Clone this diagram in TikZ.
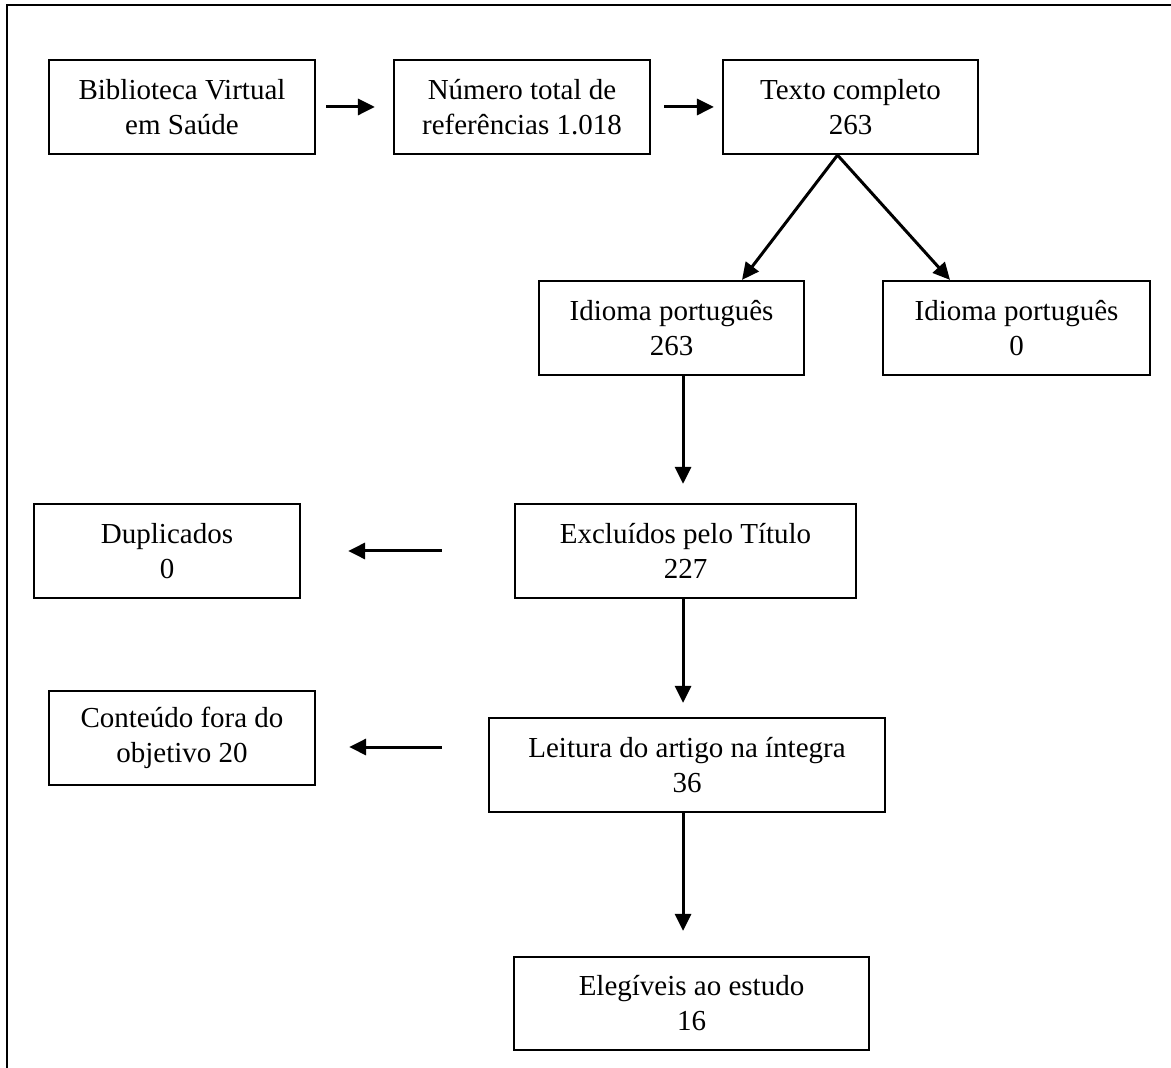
\documentclass[tikz,border=0pt]{standalone}
\usepackage{fontspec}
\setmainfont{Liberation Serif}
\usetikzlibrary{arrows.meta,calc}
\begin{document}
\begin{tikzpicture}[x=0.5pt,y=-0.5pt,
  box/.style={draw, line width=1.1pt, inner sep=0pt, align=center,
    font=\fontsize{14.5}{17.5}\selectfont},
  arr/.style={line width=1.5pt, -{Triangle[length=8.5pt,width=8pt]}},
  frame/.style={line width=1.1pt}]
\useasboundingbox (0,0) rectangle (1171,1068);
% frame (top and left sides)
\coordinate (fl) at (7,1068);
\coordinate (fc) at (7,5);
\coordinate (fr) at (1171,5);
\draw[frame] (fl) -- (fc) -- (fr);
% boxes
\node[box, minimum width=133pt, minimum height=47pt] (B1) at (182,107) {Biblioteca Virtual\\em Saúde};
\node[box, minimum width=128pt, minimum height=47pt] (B2) at (522,107) {Número total de\\referências 1.018};
\node[box, minimum width=127.5pt, minimum height=47pt] (B3) at (850.5,107) {Texto completo\\263};
\node[box, minimum width=132.5pt, minimum height=47pt] (B4) at (671.5,328) {Idioma português\\263};
\node[box, minimum width=133.5pt, minimum height=47pt] (B5) at (1016.5,328) {Idioma português\\0};
\node[box, minimum width=170.5pt, minimum height=47pt] (B6) at (685.5,551) {Excluídos pelo Título\\227};
\node[box, minimum width=133pt, minimum height=47pt] (B7) at (167,551) {Duplicados\\0};
\node[box, minimum width=198pt, minimum height=47pt] (B8) at (687,765) {Leitura do artigo na íntegra\\36};
\node[box, minimum width=133pt, minimum height=47pt] (B9) at (182,738) {Conteúdo fora do\\objetivo 20};
\node[box, minimum width=177.5pt, minimum height=46.5pt] (B10) at (691.5,1003.5) {Elegíveis ao estudo\\16};
% helper coordinates
\coordinate (vx) at (683,0);
\coordinate (ay) at (0,747);
% connectors
\draw[arr, shorten <=5pt, shorten >=9pt] (B1) -- (B2);
\draw[arr, shorten <=6.5pt, shorten >=4pt] (B2) -- (B3);
\draw[arr] ($(B3.south)+(-13,0)$) -- ($(B4.north)+(70.5,0)$);
\draw[arr] ($(B3.south)+(-13,0)$) -- ($(B5.north)+(-66.5,0)$);
\draw[arr, shorten >=9.5pt] (B4.south -| vx) -- (B6.north -| vx);
\draw[arr, shorten >=7pt] (B6.south -| vx) -- (B8.north -| vx);
\draw[arr, shorten >=12.5pt] (B8.south -| vx) -- (B10.north -| vx);
\draw[arr, shorten <=36pt, shorten >=23.5pt] (B6) -- (B7);
\draw[arr, shorten <=23pt, shorten >=16.5pt] (B8.west |- ay) -- (B9.east |- ay);
\end{tikzpicture}
\end{document}
